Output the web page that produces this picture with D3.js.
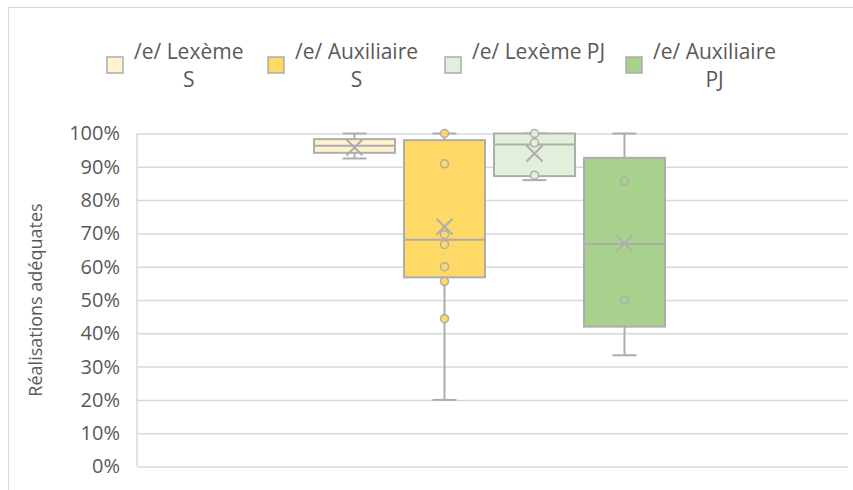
<!DOCTYPE html>
<html>
<head>
<meta charset="utf-8">
<script src="https://cdn.jsdelivr.net/npm/d3@7"></script>
<style>
  body { margin: 0; background: #fff; }
  text { font-family: "Open Sans", sans-serif; fill: #595959; }
</style>
</head>
<body>
<div id="chart"></div>
<script>
// series and their box statistics
let seriesNames = ["/e/ Lexème S", "/e/ Auxiliaire S", "/e/ Lexème PJ", "/e/ Auxiliaire PJ"];
let legendLines = [["/e/ Lexème", "S"], ["/e/ Auxiliaire", "S"], ["/e/ Lexème PJ"], ["/e/ Auxiliaire", "PJ"]];
let seriesColors = ["#FFF2CC", "#FFD966", "#E2EFDA", "#A9D18E"];

let minValues    = [0.925, 0.20, 0.86, 0.334];
let q1Values     = [0.942, 0.568, 0.872, 0.42];
let medianValues = [0.963, 0.681, 0.967, 0.668];
let q3Values     = [0.983, 0.98, 1.0, 0.927];
let maxValues    = [1.0, 1.0, 1.0, 1.0];
let meanValues   = [0.958, 0.72, 0.94, 0.67];

let innerPoints = [
  [],
  [1.0, 0.909, 0.697, 0.667, 0.6, 0.556, 0.444],
  [1.0, 0.972, 0.875],
  [0.857, 0.5]
];

let yTicks = [0, 0.1, 0.2, 0.3, 0.4, 0.5, 0.6, 0.7, 0.8, 0.9, 1.0];

let svgWidth = 853;
let svgHeight = 490;

let plot = { left: 137, right: 848, top: 133.5, bottom: 466.5 };
let strokeGray = "#ADADAD";

let svg = d3.select("#chart")
  .append("svg")
  .attr("width", svgWidth)
  .attr("height", svgHeight);

// chart border
svg.append("rect")
  .attr("x", 8.5)
  .attr("y", 7.5)
  .attr("width", svgWidth)
  .attr("height", svgHeight)
  .attr("fill", "none")
  .attr("stroke", "#D9D9D9");

let y = d3.scaleLinear()
  .domain([0, 1])
  .range([plot.bottom, plot.top]);

let x = d3.scaleBand()
  .domain(seriesNames)
  .range([309.5, 669.5])
  .paddingInner(0.1)
  .paddingOuter(0.05);

// gridlines + tick labels
let yAxis = d3.axisLeft(y)
  .tickValues(yTicks)
  .tickSize(-(plot.right - plot.left))
  .tickFormat(d3.format(".0%"))
  .tickPadding(17);

let yAxisG = svg.append("g")
  .attr("transform", `translate(${plot.left}, 0)`)
  .call(yAxis);

yAxisG.select(".domain").remove();
yAxisG.selectAll(".tick line")
  .attr("stroke", "#D9D9D9")
  .attr("stroke-width", 1.5);
yAxisG.selectAll(".tick text")
  .style("font-size", "20px")
  .attr("fill", "#595959");

// left axis line
svg.append("line")
  .attr("x1", plot.left).attr("x2", plot.left)
  .attr("y1", plot.top).attr("y2", plot.bottom)
  .attr("stroke", "#D9D9D9")
  .attr("stroke-width", 1.5);

// y title
svg.append("text")
  .attr("transform", `translate(42, ${(plot.top + plot.bottom) / 2}) rotate(-90)`)
  .attr("text-anchor", "middle")
  .style("font-size", "18px")
  .text("Réalisations adéquates");

let bw = x.bandwidth();
let capW = 24;

// boxes
seriesNames.forEach(function(name, i) {
  let g = svg.append("g").attr("class", "box");
  let cx = x(name) + bw / 2;

  // whiskers
  g.append("line")
    .attr("x1", cx).attr("x2", cx)
    .attr("y1", y(maxValues[i])).attr("y2", y(q3Values[i]))
    .attr("stroke", strokeGray).attr("stroke-width", 2);
  g.append("line")
    .attr("x1", cx).attr("x2", cx)
    .attr("y1", y(q1Values[i])).attr("y2", y(minValues[i]))
    .attr("stroke", strokeGray).attr("stroke-width", 2);
  [minValues[i], maxValues[i]].forEach(function(v) {
    g.append("line")
      .attr("x1", cx - capW / 2).attr("x2", cx + capW / 2)
      .attr("y1", y(v)).attr("y2", y(v))
      .attr("stroke", strokeGray).attr("stroke-width", 2);
  });

  // box
  g.append("rect")
    .attr("x", x(name))
    .attr("y", y(q3Values[i]))
    .attr("width", bw)
    .attr("height", y(q1Values[i]) - y(q3Values[i]))
    .attr("fill", seriesColors[i])
    .attr("stroke", strokeGray)
    .attr("stroke-width", 2);

  // median
  g.append("line")
    .attr("x1", x(name)).attr("x2", x(name) + bw)
    .attr("y1", y(medianValues[i])).attr("y2", y(medianValues[i]))
    .attr("stroke", strokeGray).attr("stroke-width", 2);

  // inner points
  g.selectAll("circle")
    .data(innerPoints[i])
    .enter()
    .append("circle")
    .attr("cx", cx)
    .attr("cy", d => y(d))
    .attr("r", 4)
    .attr("fill", seriesColors[i])
    .attr("stroke", strokeGray)
    .attr("stroke-width", 1.5);

  // mean marker
  let my = y(meanValues[i]);
  let s = 8;
  g.append("path")
    .attr("d", `M${cx - s},${my - s}L${cx + s},${my + s}M${cx - s},${my + s}L${cx + s},${my - s}`)
    .attr("stroke", strokeGray)
    .attr("stroke-width", 2)
    .attr("fill", "none");
});

// legend
let legendX = [134, 295, 472, 653];
let legendG = svg.append("g");

legendLines.forEach(function(lines, i) {
  let item = legendG.append("g");
  let t = item.append("text")
    .attr("x", legendX[i])
    .attr("y", 59)
    .style("font-size", "21px")
    .text(lines[0]);
  let w = t.node().getComputedTextLength();
  if (lines.length > 1) {
    item.append("text")
      .attr("x", legendX[i] + w / 2)
      .attr("y", 87)
      .attr("text-anchor", "middle")
      .style("font-size", "21px")
      .text(lines[1]);
  }
  item.append("rect")
    .attr("x", legendX[i] - 27)
    .attr("y", 57)
    .attr("width", 16)
    .attr("height", 16)
    .attr("fill", seriesColors[i])
    .attr("stroke", strokeGray)
    .attr("stroke-width", 1.5);
});
</script>
</body>
</html>
